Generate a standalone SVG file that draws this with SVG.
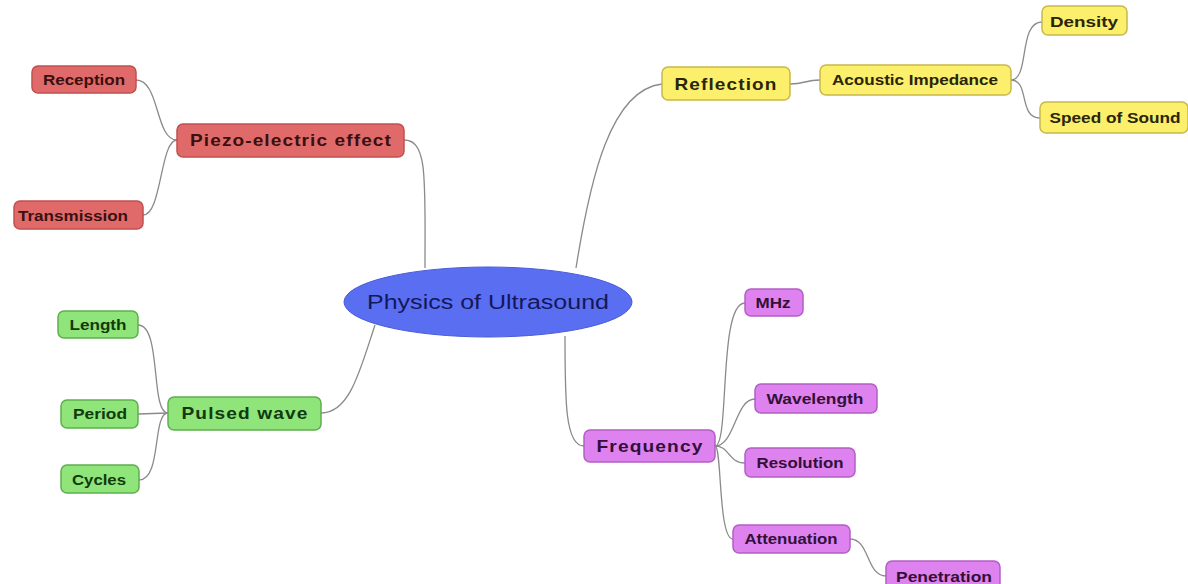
<svg xmlns="http://www.w3.org/2000/svg" width="1188" height="584" viewBox="0 0 1188 584">
<style>
.c{fill:none;stroke:#8a8a8a;stroke-width:1.3}
.r rect{fill:#e06a6a;stroke:#c24f4f;stroke-width:1.5}
.y rect{fill:#fbef6c;stroke:#c9b84a;stroke-width:1.5}
.g rect{fill:#8fe47a;stroke:#5fae4e;stroke-width:1.5}
.p rect{fill:#dd82ee;stroke:#b25fc4;stroke-width:1.5}
text{font-family:"Liberation Sans",Arial,sans-serif;font-weight:bold;text-anchor:middle}
.r text{fill:#3a1010}.y text{fill:#2a2508}.g text{fill:#123a0c}.p text{fill:#321038}
.s{font-size:14px}.m{font-size:17px;letter-spacing:1px}
</style>
<rect width="1188" height="584" fill="#ffffff"/>
<g id="connectors">
<path class="c" d="M404 140 C428 140,425 180,425 268"/>
<path class="c" d="M662 84 C610 90,590 180,576 268"/>
<path class="c" d="M321 413 C350 413,360 370,375 325"/>
<path class="c" d="M565 336 C565 400,565 446,584 446"/>
<path class="c" d="M136 80 C160 80,155 140,177 140"/>
<path class="c" d="M143 215 C162 215,160 140,177 140"/>
<path class="c" d="M138 325 C162 325,150 413,168 413"/>
<path class="c" d="M138 414 L168 413"/>
<path class="c" d="M139 480 C162 480,152 413,168 413"/>
<path class="c" d="M790 84 C805 84,805 80,820 80"/>
<path class="c" d="M1011 80 C1030 80,1018 22,1042 22"/>
<path class="c" d="M1011 80 C1030 80,1018 118,1040 118"/>
<path class="c" d="M715 446 C730 446,718 303,745 303"/>
<path class="c" d="M715 446 C735 446,735 399,755 399"/>
<path class="c" d="M715 446 C730 446,728 463,745 463"/>
<path class="c" d="M715 446 C722 446,718 539,733 539"/>
<path class="c" d="M850 539 C870 539,866 576,886 576"/>
</g>
<g id="center"><ellipse cx="488" cy="302" rx="144" ry="35" fill="#5a6ef2" stroke="#4a5cd8" stroke-width="1"/><text x="488" y="309" style="font-size:20px;font-weight:normal;fill:#14185a" textLength="242" lengthAdjust="spacingAndGlyphs">Physics of Ultrasound</text></g>
<g id="piezo" class="r"><rect x="177" y="124" width="227" height="33" rx="6"/><text class="m" x="291" y="146" textLength="202" lengthAdjust="spacingAndGlyphs">Piezo-electric effect</text></g>
<g id="reception" class="r"><rect x="32" y="66" width="104" height="27" rx="6"/><text class="s" x="84" y="85" textLength="82" lengthAdjust="spacingAndGlyphs">Reception</text></g>
<g id="transmission" class="r"><rect x="14" y="201" width="129" height="28" rx="6"/><text class="s" x="73" y="221" textLength="110" lengthAdjust="spacingAndGlyphs">Transmission</text></g>
<g id="pulsed" class="g"><rect x="168" y="397" width="153" height="33" rx="6"/><text class="m" x="245" y="419" textLength="127" lengthAdjust="spacingAndGlyphs">Pulsed wave</text></g>
<g id="length" class="g"><rect x="58" y="311" width="80" height="27" rx="6"/><text class="s" x="98" y="330" textLength="57" lengthAdjust="spacingAndGlyphs">Length</text></g>
<g id="period" class="g"><rect x="61" y="400" width="77" height="28" rx="6"/><text class="s" x="100" y="419" textLength="54" lengthAdjust="spacingAndGlyphs">Period</text></g>
<g id="cycles" class="g"><rect x="61" y="465" width="78" height="28" rx="6"/><text class="s" x="99" y="485" textLength="54" lengthAdjust="spacingAndGlyphs">Cycles</text></g>
<g id="reflection" class="y"><rect x="662" y="67" width="128" height="33" rx="6"/><text class="m" x="726" y="90" textLength="103" lengthAdjust="spacingAndGlyphs">Reflection</text></g>
<g id="acoustic" class="y"><rect x="820" y="65" width="191" height="30" rx="6"/><text class="s" x="915" y="85" textLength="166" lengthAdjust="spacingAndGlyphs">Acoustic Impedance</text></g>
<g id="density" class="y"><rect x="1042" y="6" width="85" height="29" rx="6"/><text class="s" x="1084" y="27" textLength="68" lengthAdjust="spacingAndGlyphs">Density</text></g>
<g id="speed" class="y"><rect x="1040" y="102" width="148" height="31" rx="6"/><text class="s" x="1115" y="123" textLength="131" lengthAdjust="spacingAndGlyphs">Speed of Sound</text></g>
<g id="frequency" class="p"><rect x="584" y="430" width="131" height="32" rx="6"/><text class="m" x="650" y="452" textLength="107" lengthAdjust="spacingAndGlyphs">Frequency</text></g>
<g id="mhz" class="p"><rect x="745" y="289" width="58" height="27" rx="6"/><text class="s" x="773" y="308" textLength="35" lengthAdjust="spacingAndGlyphs">MHz</text></g>
<g id="wavelength" class="p"><rect x="755" y="384" width="122" height="29" rx="6"/><text class="s" x="815" y="404" textLength="97" lengthAdjust="spacingAndGlyphs">Wavelength</text></g>
<g id="resolution" class="p"><rect x="745" y="448" width="110" height="29" rx="6"/><text class="s" x="800" y="468" textLength="87" lengthAdjust="spacingAndGlyphs">Resolution</text></g>
<g id="attenuation" class="p"><rect x="733" y="525" width="117" height="28" rx="6"/><text class="s" x="791" y="544" textLength="93" lengthAdjust="spacingAndGlyphs">Attenuation</text></g>
<g id="penetration" class="p"><rect x="886" y="561" width="114" height="30" rx="6"/><text class="s" x="944" y="582" textLength="96" lengthAdjust="spacingAndGlyphs">Penetration</text></g>
</svg>
